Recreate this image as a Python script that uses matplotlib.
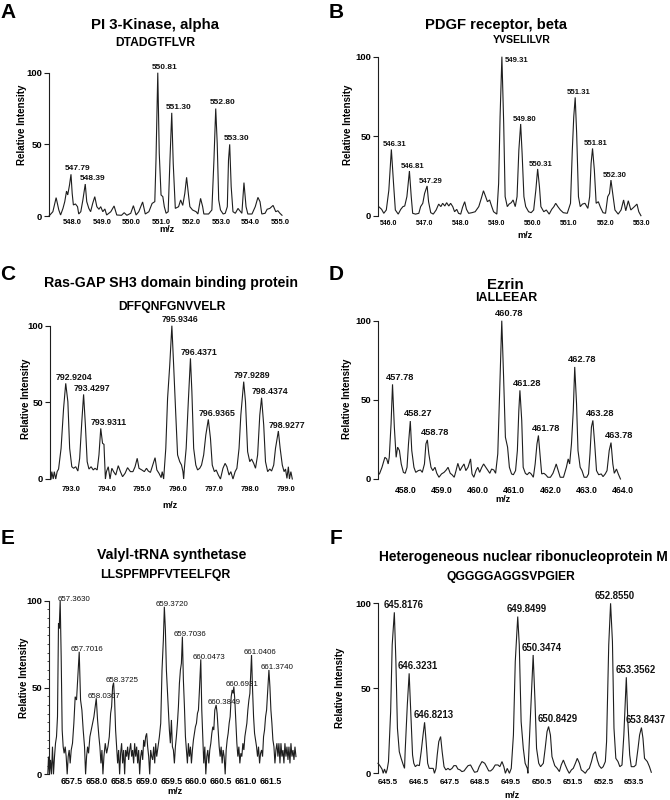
import matplotlib
matplotlib.use('Agg')
import matplotlib.pyplot as plt
import numpy as np

plt.rcParams['font.family'] = ['Liberation Sans', 'DejaVu Sans']

W, H = 670, 800
fig = plt.figure(figsize=(W / 100, H / 100), dpi=100)

# ---------------- data ----------------
A_mz = [547.22, 547.35, 547.46, 547.55, 547.61, 547.69, 547.75, 547.81, 547.85, 547.91, 547.96, 548.00,
        548.04, 548.11, 548.18, 548.22, 548.29, 548.36, 548.44, 548.49, 548.56, 548.62, 548.69, 548.76,
        548.83, 548.90, 548.96, 549.03, 549.10, 549.16, 549.30, 549.41, 549.50, 549.66, 549.75, 549.84,
        549.97, 550.06, 550.15, 550.24, 550.37, 550.46, 550.58, 550.69, 550.78, 550.82, 550.88, 550.93,
        550.99, 551.05, 551.10, 551.16, 551.23, 551.29, 551.35, 551.40, 551.47, 551.58, 551.65, 551.72,
        551.79, 551.85, 551.92, 551.96, 552.05, 552.17, 552.23, 552.32, 552.39, 552.43, 552.59, 552.70,
        552.77, 552.83, 552.88, 552.93, 552.99, 553.08, 553.15, 553.22, 553.26, 553.30, 553.35, 553.41,
        553.49, 553.58, 553.62, 553.71, 553.78, 553.85, 553.91, 554.05, 554.16, 554.25, 554.32, 554.38,
        554.49, 554.56, 554.65, 554.76, 554.85, 554.92, 554.99, 555.06]
A_int = [0, 3, 12.8, 4.2, 0.7, 5.3, 10, 17.4, 14.7, 21.6, 29.1, 15.8,
         7.7, 8.4, 6.5, 1.4, 3, 11.2, 22.3, 10, 5.3, 3, 8.8, 13.5,
         6.5, 4.7, 6.5, 3, 4.9, 0.7, 3, 7, 0.7, 0.5, 2.3, 0.5,
         1.9, 7.2, 0.7, 3, 9.8, 1.4, 3, 8.8, 10, 39, 100, 43.7,
         14.7, 13.5, 6.5, 1.9, 3, 39, 72, 36.7, 5.3, 6.5, 11.2, 7.4,
         15.8, 27, 13.5, 6.5, 4.2, 3, 1.4, 12.3, 6.5, 1.4, 1.4, 4.2,
         39, 75, 50.7, 11.2, 4.2, 1.4, 1.9, 6.5, 39, 50, 20.5, 3,
         1.9, 5.3, 4.2, 1.9, 23.3, 6.5, 1.4, 1.4, 6.5, 13, 10, 1.4,
         1.9, 4.7, 5.3, 7.4, 3, 3.7, 1.9, 0.5]
A_peak_mz = [547.96, 548.44, 550.88, 551.35, 552.83, 553.30]
A_peak_labels = ['547.79', '548.39', '550.81', '551.30', '552.80', '553.30']
A_xticks = [548.0, 549.0, 550.0, 551.0, 552.0, 553.0, 554.0, 555.0]

B_mz = [545.73, 545.81, 545.87, 545.94, 546.01, 546.08, 546.14, 546.19, 546.27, 546.34, 546.40, 546.45,
        546.51, 546.58, 546.63, 546.67, 546.75, 546.84, 546.89, 546.95, 547.00, 547.07, 547.11, 547.17,
        547.24, 547.32, 547.39, 547.45, 547.50, 547.56, 547.61, 547.67, 547.72, 547.78, 547.83, 547.89,
        547.94, 548.00, 548.05, 548.11, 548.16, 548.22, 548.31, 548.40, 548.50, 548.57, 548.63, 548.69,
        548.74, 548.80, 548.86, 548.91, 549.00, 549.05, 549.09, 549.14, 549.19, 549.23, 549.29, 549.34,
        549.40, 549.45, 549.51, 549.56, 549.61, 549.66, 549.70, 549.75, 549.80, 549.88, 549.95, 550.02,
        550.08, 550.13, 550.18, 550.22, 550.30, 550.37, 550.45, 550.52, 550.58, 550.63, 550.69, 550.76,
        550.84, 550.95, 551.04, 551.09, 551.13, 551.17, 551.21, 551.26, 551.31, 551.37, 551.44, 551.52,
        551.57, 551.61, 551.65, 551.70, 551.75, 551.81, 551.87, 551.94, 552.01, 552.07, 552.12, 552.16,
        552.22, 552.27, 552.36, 552.44, 552.51, 552.57, 552.64, 552.71, 552.81, 552.88, 552.93, 552.99]
B_int = [5.7, 4, 1.5, 3.6, 16, 41.7, 20.3, 3.6, 1, 4, 5.7, 6.1,
         12, 28.1, 12, 1.5, 1, 1.5, 5.7, 7.8, 14, 18.7, 8.8, 1.9,
         1, 3.6, 7.3, 5.7, 7.8, 6.1, 8.2, 6.1, 7.8, 5.7, 2.5, 4,
         1.5, 1, 5.2, 8.8, 4, 1.5, 1.9, 2.5, 5.7, 10.9, 15.7, 12,
         8.8, 9.9, 5.7, 2.5, 1, 20.3, 62.3, 100, 58, 12, 5.7, 7.3,
         8.2, 9.9, 5.7, 12, 41.3, 57.7, 39.2, 12, 5.7, 2.5, 1.9, 3.6,
         16.1, 29.4, 18.2, 5.7, 2.5, 3.6, 1, 4, 5.7, 7.8, 5.7, 3.6,
         1.9, 1.5, 7.8, 41.3, 62.3, 74.4, 51.8, 12, 5.7, 7.3, 7.8, 4.6,
         12, 32.9, 42.3, 28.7, 7.8, 8.8, 5.2, 1.9, 1.5, 12, 14, 22.4,
         12, 3.6, 1, 3.6, 9.9, 3.1, 9.4, 3.6, 5.7, 7.3, 2.5, 0]
B_peak_mz = [546.08, 546.58, 547.07, 549.14, 549.66, 550.13, 551.17, 551.65, 552.16]
B_peak_labels = ['546.31', '546.81', '547.29', '549.31', '549.80', '550.31', '551.31', '551.81', '552.30']
B_xticks = [546.0, 547.0, 548.0, 549.0, 550.0, 551.0, 552.0, 553.0]

C_mz = [792.44, 792.46, 792.50, 792.53, 792.57, 792.61, 792.65, 792.72, 792.79, 792.85, 792.91, 792.96,
        793.02, 793.07, 793.13, 793.19, 793.24, 793.30, 793.35, 793.40, 793.45, 793.50, 793.56, 793.62,
        793.67, 793.73, 793.78, 793.83, 793.88, 793.92, 793.96, 793.99, 794.04, 794.09, 794.14, 794.19,
        794.25, 794.32, 794.38, 794.44, 794.51, 794.58, 794.66, 794.73, 794.79, 794.85, 794.90, 794.98,
        795.05, 795.11, 795.16, 795.22, 795.27, 795.35, 795.40, 795.46, 795.52, 795.55, 795.59, 795.65,
        795.70, 795.76, 795.82, 795.87, 795.93, 795.98, 796.04, 796.09, 796.13, 796.15, 796.17, 796.22,
        796.28, 796.34, 796.38, 796.43, 796.49, 796.54, 796.60, 796.65, 796.71, 796.77, 796.84, 796.90,
        796.95, 797.01, 797.06, 797.12, 797.18, 797.25, 797.31, 797.36, 797.42, 797.47, 797.53, 797.59,
        797.64, 797.70, 797.75, 797.83, 797.88, 797.94, 798.00, 798.05, 798.11, 798.16, 798.22, 798.28,
        798.33, 798.39, 798.44, 798.50, 798.56, 798.61, 798.67, 798.72, 798.80, 798.85, 798.91, 798.96,
        799.00, 799.04, 799.08, 799.11, 799.15, 799.19]
C_int = [0, 4.8, 0, 4.8, 0, 4.8, 6.5, 20, 46.1, 62.4, 50.4, 20,
         8, 7, 8, 5.2, 13.5, 37.4, 55.2, 35.2, 11.3, 6.5, 8, 5.9,
         7, 5.9, 15.7, 33, 23.3, 22.6, 0, 4.8, 8, 0, 7, 4.8,
         2.6, 8.7, 4.8, 1.5, 3.7, 7.4, 4.8, 4.8, 8, 13.5, 7, 5.9,
         4.8, 7, 5.2, 4.3, 8, 13.9, 5.9, 3.7, 0.9, 4.8, 0, 20,
         52.6, 74, 100, 74, 41.7, 15.7, 11.3, 9.1, 4.8, 0, 7, 20,
         50.4, 78.7, 57, 20, 9.1, 5.9, 7, 9.1, 15.7, 28.7, 38.9, 26.5,
         9.1, 4.8, 5.9, 2.6, 0, 7, 10.2, 8, 2.6, 4.8, 0, 4.8,
         7, 20, 41.7, 63.5, 50.4, 17.8, 11.3, 13, 10.2, 7, 15.7, 41.7,
         53, 35.2, 11.3, 4.8, 6.5, 5.2, 9.1, 20, 31.3, 20, 9.1, 4.8,
         6.5, 0.4, 8, 0, 4.8, 0]
C_peak_mz = [792.85, 793.35, 793.83, 795.82, 796.34, 796.84, 797.83, 798.33, 798.80]
C_peak_labels = ['792.9204', '793.4297', '793.9311', '795.9346', '796.4371', '796.9365',
                 '797.9289', '798.4374', '798.9277']
C_xticks = [793.0, 794.0, 795.0, 796.0, 797.0, 798.0, 799.0]

D_mz = [457.29, 457.36, 457.44, 457.49, 457.53, 457.56, 457.61, 457.65, 457.70, 457.75, 457.79, 457.84,
        457.89, 457.95, 458.00, 458.05, 458.09, 458.14, 458.18, 458.24, 458.29, 458.36, 458.42, 458.47,
        458.53, 458.57, 458.61, 458.65, 458.71, 458.76, 458.82, 458.87, 458.93, 459.00, 459.07, 459.13,
        459.18, 459.24, 459.29, 459.35, 459.40, 459.45, 459.51, 459.56, 459.62, 459.67, 459.73, 459.80,
        459.84, 459.89, 459.95, 460.00, 460.05, 460.11, 460.16, 460.22, 460.27, 460.33, 460.38, 460.44,
        460.49, 460.55, 460.60, 460.66, 460.71, 460.76, 460.82, 460.87, 460.93, 460.98, 461.04, 461.09,
        461.13, 461.16, 461.21, 461.25, 461.31, 461.36, 461.42, 461.47, 461.53, 461.58, 461.63, 461.67,
        461.72, 461.76, 461.82, 461.87, 461.93, 462.00, 462.07, 462.13, 462.16, 462.22, 462.27, 462.36,
        462.44, 462.49, 462.53, 462.58, 462.63, 462.67, 462.72, 462.76, 462.82, 462.87, 462.93, 463.00,
        463.05, 463.09, 463.13, 463.17, 463.22, 463.27, 463.33, 463.40, 463.45, 463.51, 463.56, 463.62,
        463.67, 463.72, 463.76, 463.82, 463.87, 463.93]
D_int = [3.2, 7.4, 13.7, 12.7, 9.5, 13.7, 34.9, 59.8, 32.8, 13.7, 20.1, 18,
         9.5, 4.2, 3.6, 7.4, 22.2, 36.6, 18, 7.4, 4.2, 5.3, 5.7, 4.2,
         9.5, 22.2, 24.7, 15.9, 7.4, 5.3, 7.4, 3.6, 1.1, 3.2, 4.2, 5.7,
         7.4, 3.6, 2.7, 1.1, 5.3, 9.9, 5.3, 7.4, 9.5, 5.3, 7.4, 12.7,
         3.2, 1.1, 5.3, 7.4, 4.2, 7.4, 9.5, 7.4, 5.7, 3.6, 6.3, 5.7,
         3.6, 15.9, 53.9, 100, 64.5, 26.4, 20.1, 7.4, 3.2, 2.7, 5.3, 18,
         43.3, 56, 37, 7.4, 3.6, 2.7, 4.2, 3.2, 1.1, 9.5, 22.2, 27.5,
         13.7, 3.2, 3.6, 2.7, 1.1, 1.1, 3.6, 7.4, 9.5, 4.9, 1.1, 1.1,
         7.4, 12.7, 9.5, 22.2, 43.3, 70.8, 47.6, 18, 7.4, 5.3, 1.1, 1.1,
         3.2, 15.9, 32.8, 37, 22.2, 5.3, 2.7, 3.2, 1.5, 3.2, 5.3, 18,
         23, 9.5, 3.6, 6.3, 3.2, 0]
D_peak_mz = [457.65, 458.14, 458.61, 460.66, 461.16, 461.67, 462.67, 463.17, 463.67]
D_peak_labels = ['457.78', '458.27', '458.78', '460.78', '461.28', '461.78', '462.78', '463.28', '463.78']
D_xticks = [458.0, 459.0, 460.0, 461.0, 462.0, 463.0, 464.0]

E_mz = [657.016, 657.030, 657.050, 657.070, 657.090, 657.110, 657.130, 657.151, 657.171, 657.191,
        657.211, 657.231, 657.245, 657.265, 657.285, 657.305, 657.325, 657.345, 657.366, 657.386,
        657.406, 657.426, 657.446, 657.466, 657.487, 657.513, 657.540, 657.567, 657.594, 657.621,
        657.648, 657.675, 657.702, 657.728, 657.755, 657.776, 657.796, 657.816, 657.836, 657.863,
        657.890, 657.917, 657.944, 657.970, 657.991, 658.017, 658.044, 658.064, 658.085, 658.105,
        658.125, 658.145, 658.172, 658.199, 658.226, 658.253, 658.280, 658.300, 658.320, 658.340,
        658.360, 658.380, 658.400, 658.421, 658.441, 658.461, 658.481, 658.501, 658.521, 658.542,
        658.562, 658.582, 658.602, 658.622, 658.642, 658.663, 658.683, 658.703, 658.723, 658.743,
        658.763, 658.784, 658.804, 658.824, 658.844, 658.864, 658.884, 658.904, 658.925, 658.945,
        658.965, 658.985, 659.005, 659.025, 659.046, 659.066, 659.086, 659.106, 659.126, 659.146,
        659.167, 659.187, 659.207, 659.234, 659.261, 659.288, 659.314, 659.341, 659.361, 659.382,
        659.402, 659.422, 659.442, 659.462, 659.482, 659.503, 659.523, 659.543, 659.563, 659.583,
        659.603, 659.624, 659.644, 659.664, 659.684, 659.704, 659.724, 659.744, 659.765, 659.785,
        659.805, 659.825, 659.845, 659.865, 659.886, 659.906, 659.926, 659.946, 659.966, 659.986,
        660.007, 660.027, 660.047, 660.067, 660.094, 660.114, 660.134, 660.154, 660.175, 660.195,
        660.215, 660.235, 660.255, 660.275, 660.296, 660.316, 660.336, 660.356, 660.376, 660.403,
        660.423, 660.443, 660.464, 660.484, 660.504, 660.524, 660.544, 660.564, 660.585, 660.605,
        660.625, 660.645, 660.665, 660.685, 660.706, 660.726, 660.746, 660.759, 660.779, 660.800,
        660.820, 660.840, 660.860, 660.880, 660.900, 660.920, 660.941, 660.961, 660.981, 661.001,
        661.021, 661.041, 661.062, 661.082, 661.115, 661.136, 661.156, 661.176, 661.196, 661.216,
        661.236, 661.256, 661.277, 661.297, 661.317, 661.337, 661.357, 661.377, 661.398, 661.418,
        661.445, 661.465, 661.485, 661.505, 661.525, 661.545, 661.566, 661.586, 661.606, 661.626,
        661.646, 661.666, 661.687, 661.707, 661.727, 661.747, 661.767, 661.787, 661.808, 661.828,
        661.848, 661.868, 661.888, 661.908, 661.929, 661.949, 661.969, 661.989, 662.009]
E_int = [0, 10.2, 0, 8.3, 0, 15.9, 0, 10.2, 17.9, 21.7,
         33.2, 86.9, 84, 100, 67.8, 25.5, 15.9, 12.1, 15.9, 10.2,
         0, 10.2, 14, 6.3, 14, 17.9, 29.4, 44.7, 42.8, 56.2,
         70.6, 42.8, 37, 25.5, 15.9, 0, 10.2, 15.9, 12.1, 21.7,
         25.5, 29.4, 33.2, 39, 43.8, 31.3, 21.7, 15.9, 6.3, 14,
         0, 10.2, 17.9, 12.1, 15.9, 21.7, 35.1, 39, 50.5, 52.8,
         42.8, 25.5, 15.9, 6.3, 14, 0, 12.1, 17.9, 6.3, 14,
         0, 14, 10.2, 15.9, 8.3, 14, 17.9, 10.2, 14, 6.3,
         17.9, 10.2, 15.9, 6.3, 14, 0, 10.2, 14, 8.3, 19.8,
         15.9, 21.7, 23.6, 15.9, 10.2, 0, 14, 10.2, 8.3, 15.9,
         6.3, 17.9, 10.2, 15.9, 21.7, 29.4, 60.1, 77.4, 96.5, 83.1,
         60.1, 48.6, 37, 25.5, 17.9, 31.3, 15.9, 14, 6.3, 15.9,
         21.7, 29.4, 39, 52.4, 60.1, 63.9, 79.3, 54.3, 39, 21.7,
         14, 6.3, 17.9, 10.2, 15.9, 6.3, 14, 19.8, 23.6, 27.4,
         29.4, 35.1, 37, 48.6, 66.2, 37, 21.7, 6.3, 15.9, 0,
         10.2, 14, 6.3, 14, 17.9, 23.6, 27.4, 25.5, 37, 39.9,
         35.1, 25.5, 15.9, 10.2, 15.9, 6.3, 14, 10.2, 0, 14,
         19.8, 23.6, 29.4, 33.2, 44.7, 48.6, 46.6, 50.5, 42.8, 29.4,
         17.9, 10.2, 15.9, 6.3, 12.1, 10.2, 17.9, 14, 21.7, 25.5,
         29.4, 37, 42.8, 46.6, 68.7, 48.6, 33.2, 23.6, 19.8, 15.9,
         10.2, 15.9, 6.3, 12.1, 14, 10.2, 21.7, 25.5, 33.2, 37,
         50.5, 60.1, 50.5, 37, 29.4, 19.8, 15.9, 6.3, 14, 17.9,
         10.2, 17.9, 6.3, 17.9, 10.2, 14, 6.3, 17.9, 10.2, 15.9,
         8.3, 15.9, 6.3, 17.9, 10.2, 14, 8.3, 15.9, 10.2]
E_peak_mz = [657.265, 657.648, 657.991, 658.340, 659.361, 659.724, 660.094, 660.403, 660.759,
             661.115, 661.465]
E_peak_labels = ['657.3630', '657.7016', '658.0307', '658.3725', '659.3720', '659.7036', '660.0473',
                 '660.3849', '660.6931', '661.0406', '661.3740']
E_xticks = [657.5, 658.0, 658.5, 659.0, 659.5, 660.0, 660.5, 661.0, 661.5]

F_mz = [645.19, 645.25, 645.32, 645.36, 645.40, 645.45, 645.49, 645.53, 645.60, 645.65, 645.72, 645.77,
        645.82, 645.88, 645.94, 646.01, 646.05, 646.07, 646.14, 646.20, 646.26, 646.31, 646.35, 646.40,
        646.46, 646.53, 646.59, 646.65, 646.70, 646.75, 646.80, 646.85, 646.92, 646.98, 647.02, 647.07,
        647.11, 647.16, 647.22, 647.27, 647.33, 647.39, 647.46, 647.52, 647.59, 647.65, 647.72, 647.78,
        647.85, 647.91, 647.98, 648.04, 648.11, 648.19, 648.26, 648.32, 648.41, 648.47, 648.56, 648.65,
        648.71, 648.78, 648.84, 648.91, 648.99, 649.08, 649.14, 649.21, 649.27, 649.32, 649.38, 649.45,
        649.51, 649.58, 649.64, 649.72, 649.77, 649.83, 649.90, 649.96, 650.03, 650.05, 650.09, 650.16,
        650.22, 650.28, 650.33, 650.40, 650.46, 650.55, 650.61, 650.67, 650.72, 650.78, 650.83, 650.92,
        651.00, 651.07, 651.13, 651.20, 651.26, 651.33, 651.39, 651.46, 651.52, 651.59, 651.65, 651.72,
        651.78, 651.85, 651.91, 651.98, 652.04, 652.11, 652.17, 652.24, 652.30, 652.36, 652.43, 652.49,
        652.56, 652.60, 652.67, 652.73, 652.79, 652.84, 652.90, 652.97, 653.03, 653.10, 653.16, 653.24,
        653.29, 653.35, 653.40, 653.49, 653.55, 653.62, 653.67, 653.73, 653.78, 653.83, 653.92, 653.99,
        654.05]
F_int = [5.9, 4.5, 2.5, 0, 2.5, 0, 2.5, 6.9, 36.3, 75.5, 94.7, 65.7,
         26.5, 12.7, 8.8, 4.9, 2.9, 12.7, 40.2, 58.8, 32.4, 10.8, 5.9, 3.9,
         4.9, 4.5, 12.7, 22.5, 30, 18.6, 5.9, 2.9, 2.9, 2.9, 0, 2.9,
         10.8, 18.6, 21.6, 12.7, 3.9, 2, 2.9, 2, 2.9, 4.5, 4.5, 2.5,
         2, 1, 1.4, 2.9, 4.5, 4.9, 2.5, 0.6, 1, 3.9, 6.9, 5.9,
         3.9, 1.4, 1.4, 2.5, 4.9, 4.9, 3.9, 6.9, 3.9, 0, 2.9, 0,
         2.9, 22.5, 65.7, 92.2, 75.5, 30.4, 14.7, 5.9, 2.9, 0, 16.7, 46.1,
         69.6, 42.2, 14.7, 5.9, 3.9, 5.9, 14.7, 24.5, 27.5, 22.5, 9.8, 4.5,
         2.9, 1, 4.9, 7.8, 4.9, 2, 0, 2, 2.9, 5.9, 8.8, 5.9,
         2, 1, 0, 2, 2.9, 6.9, 11.2, 12.7, 7.8, 4.5, 2.9, 3.9,
         6.9, 18.6, 75.5, 100, 77.5, 26.5, 8.8, 6.9, 3.9, 4.9, 22.5, 56.5,
         30.4, 10.8, 3.9, 3.9, 4.9, 14.7, 22.5, 26.9, 20.6, 8.8, 6.9, 3.9,
         0.6]
F_peak_mz = [645.72, 646.20, 646.70, 649.72, 650.22, 650.72, 652.73, 653.24, 653.73]
F_peak_labels = ['645.8176', '646.3231', '646.8213', '649.8499', '650.3474', '650.8429', '652.8550',
                 '653.3562', '653.8437']
F_xticks = [645.5, 646.5, 647.5, 648.5, 649.5, 650.5, 651.5, 652.5, 653.5]

YTICKS = [0, 50, 100]
LINE = '#1e1e1e'


def ftext(x, y, s, **kw):
    fig.text(x / W, 1 - y / H, s, **kw)


def panel(rect, xlim, mz, inten, pk_mz, pk_lab, xticks, lab_size, lab_weight, lab_off,
          overrides, tick_size, tick_pad, minor=False):
    l, t, r, b = rect
    ax = fig.add_axes([l / W, 1 - b / H, (r - l) / W, (b - t) / H])
    ax.patch.set_alpha(0)
    ax.plot(mz, inten, color=LINE, lw=0.8, clip_on=False, solid_joinstyle='miter')
    ax.set_xlim(*xlim)
    ax.set_ylim(0, 100)
    for s in ['top', 'right', 'bottom']:
        ax.spines[s].set_visible(False)
    ax.spines['left'].set_linewidth(0.8)
    ax.spines['left'].set_color(LINE)
    ax.set_yticks(YTICKS)
    ax.set_yticklabels([str(v) for v in YTICKS], fontsize=6.8, fontweight='bold')
    ax.set_xticks(xticks)
    ax.set_xticklabels(['%.1f' % v for v in xticks], fontsize=tick_size, fontweight='bold')
    ax.tick_params(axis='x', length=0, pad=tick_pad)
    ax.tick_params(axis='y', length=3.5, width=0.8, pad=1.5, color=LINE)
    if minor:
        ax.set_yticks(np.arange(0, 101, 5), minor=True)
        ax.tick_params(axis='y', which='minor', length=1.2, width=0.5)
    for i, (pm, lab) in enumerate(zip(pk_mz, pk_lab)):
        y = float(np.interp(pm, mz, inten))
        dx, dy, ha, va = overrides.get(i, lab_off)
        ax.annotate(lab, (pm, y), xytext=(dx, dy), textcoords='offset points', ha=ha, va=va,
                    fontsize=lab_size, fontweight=lab_weight, annotation_clip=False, color='#111')
    return ax


# A
panel((49, 72.7, 282, 216), (547.22, 555.06), A_mz, A_int, A_peak_mz, A_peak_labels, A_xticks,
      6.0, 'bold', (5, 1.5, 'center', 'bottom'), {}, 5.4, 2.5)
# B
panel((378, 56.7, 641.3, 215.7), (545.71, 552.99), B_mz, B_int, B_peak_mz, B_peak_labels, B_xticks,
      5.6, 'bold', (2.5, 1, 'center', 'bottom'), {3: (2, -2.5, 'left', 'center')}, 5.0, 3)
# C
panel((50, 325.7, 292.3, 479), (792.41, 799.19), C_mz, C_int, C_peak_mz, C_peak_labels, C_xticks,
      6.3, 'bold', (6, 1, 'center', 'bottom'), {}, 5.4, 5)
# D
panel((378, 320.7, 623, 479), (457.25, 463.95), D_mz, D_int, D_peak_mz, D_peak_labels, D_xticks,
      6.7, 'bold', (5.5, 2, 'center', 'bottom'), {}, 6.2, 5)
# E
panel((49, 600.7, 297, 774.3), (657.04, 662.03), E_mz, E_int, E_peak_mz, E_peak_labels, E_xticks,
      5.7, 'normal', (5.8, 1.5, 'center', 'center'), {0: (9.8, 1, 'center', 'center')}, 6.4, 2.2,
      minor=True)
# F
panel((378, 603.3, 651.3, 773.3), (645.19, 654.05), F_mz, F_int, F_peak_mz, F_peak_labels, F_xticks,
      6.9, 'bold', (6.5, 1.5, 'center', 'bottom'),
      {6: (3, 1.5, 'center', 'bottom'), 8: (3, 1.5, 'center', 'bottom')}, 5.8, 4)

# panel letters
for s, x, y in [('A', 8, 12.5), ('B', 336, 12.5), ('C', 8, 274), ('D', 336, 274),
                ('E', 8, 539), ('F', 336, 539)]:
    ftext(x, y, s, fontsize=15, fontweight='bold', ha='center', va='center')

# titles
titles = [('PI 3-Kinase, alpha', 155, 25, 10.8), ('PDGF receptor, beta', 496, 25, 10.6),
          ('Ras-GAP SH3 domain binding protein', 171, 283, 10.2), ('Ezrin', 505, 285, 10.8),
          ('Valyl-tRNA synthetase', 172, 555, 10.2),
          ('Heterogeneous nuclear ribonucleoprotein M', 523, 557, 9.9)]
for s, x, y, fs in titles:
    ftext(x, y, s, fontsize=fs, fontweight='bold', ha='center', va='center')

subs = [('DTADGTFLVR', 155, 43, 8.7), ('YVSELILVR', 522, 40, 7.6), ('DFFQNFGNVVELR', 172, 307, 8.7),
        ('IALLEEAR', 506, 298, 8.9), ('LLSPFMPFVTEELFQR', 165, 575, 8.8),
        ('QGGGGAGGSVPGIER', 511, 577, 8.7)]
for s, x, y, fs in subs:
    ftext(x, y, s, fontsize=fs, fontweight='bold', ha='center', va='center')

for x, y in [(22, 125), (348, 125), (26, 399), (347, 399), (24, 678), (340, 688)]:
    ftext(x, y, 'Relative Intensity', fontsize=7, fontweight='bold', ha='center', va='center',
          rotation=90)

for x, y in [(167, 230), (525, 236), (170, 505), (503, 499), (175, 791), (512, 795)]:
    ftext(x, y, 'm/z', fontsize=6.6, fontweight='bold', ha='center', va='center')

fig.savefig('out.png', dpi=100)
